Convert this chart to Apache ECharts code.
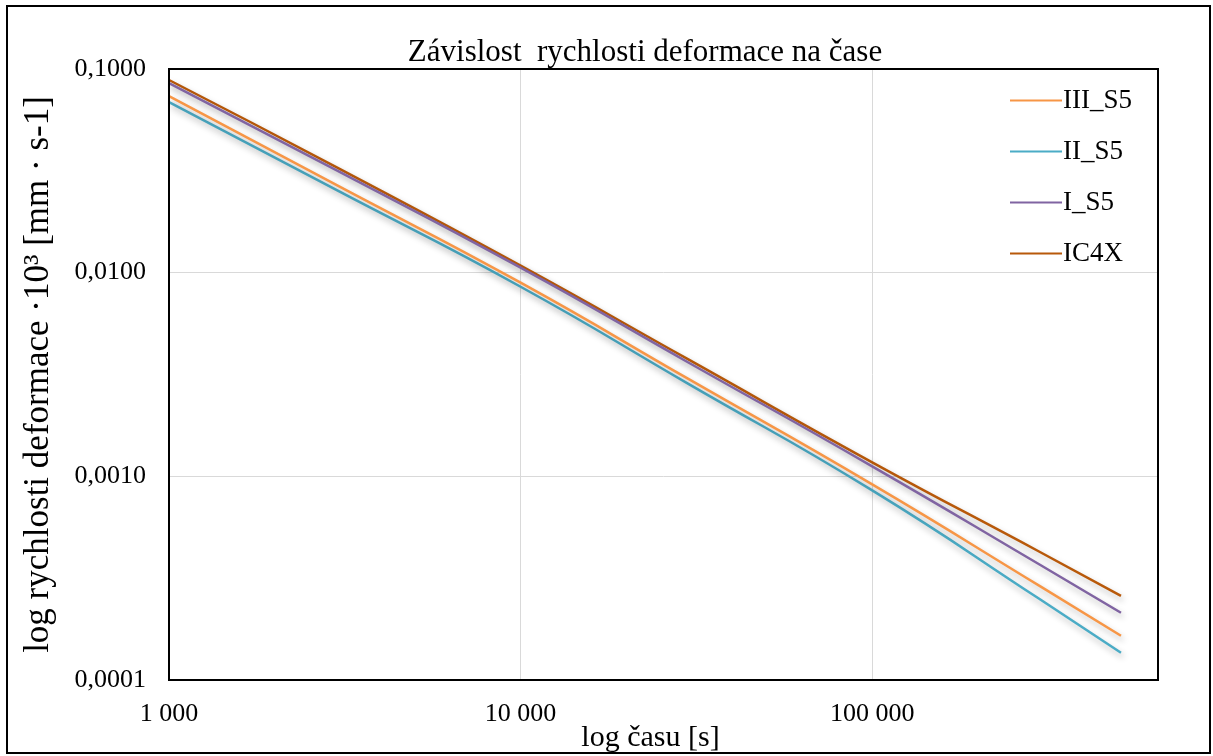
<!DOCTYPE html>
<html>
<head>
<meta charset="utf-8">
<script src="https://cdn.jsdelivr.net/npm/echarts@6/dist/echarts.min.js"></script>
<style>html,body{margin:0;padding:0;background:#fff}#c{width:1213px;height:756px}</style>
</head>
<body>
<div id="c"></div>
<script>
const times = [1000, 3000, 10000, 30000, 100000, 300000, 510000];
const seriesNames = ['III_S5', 'II_S5', 'I_S5', 'IC4X'];
const valIII_S5 = [0.0736, 0.0269, 0.00893, 0.003008, 0.000913, 0.000289, 0.000165];
const valII_S5  = [0.0688, 0.0254, 0.00853, 0.002845, 0.000853, 0.000249, 0.000136];
const valI_S5   = [0.0853, 0.0318, 0.01058, 0.003623, 0.001120, 0.000368, 0.000214];
const valIC4X   = [0.0883, 0.0329, 0.01083, 0.003750, 0.001172, 0.000425, 0.000259];
const yTicks = [0.0001, 0.001, 0.01, 0.1];
const xTicks = [1000, 10000, 100000];
const colors = ['#F79646', '#4BACC6', '#8064A2', '#B8590A'];
const values = [valIII_S5, valII_S5, valI_S5, valIC4X];

const serif = '"Liberation Serif", "DejaVu Serif", serif';
const isPow10 = v => Math.abs(Math.log10(v) - Math.round(Math.log10(v))) < 1e-6;

const G = {left: 169, top: 69, right: 55, bottom: 76};
const chart = echarts.init(document.getElementById('c'), null, {renderer: 'canvas'});
chart.setOption({
  backgroundColor: '#fff',
  animation: false,
  title: {
    text: 'Závislost  rychlosti deformace na čase',
    left: 640, top: 32, textAlign: 'center',
    textStyle: {fontFamily: serif, fontSize: 31, fontWeight: 'normal', color: '#000'}
  },
  graphic: [{
    type: 'rect', shape: {x: 7, y: 6, width: 1203, height: 747},
    style: {fill: 'none', stroke: '#000', lineWidth: 2}, silent: true, z: 100
  }, {
    type: 'rect', shape: {x: G.left, y: G.top, width: 1213 - G.left - G.right, height: 756 - G.top - G.bottom},
    style: {fill: 'none', stroke: '#000', lineWidth: 2}, silent: true, z: 100
  }],
  legend: {
    orient: 'vertical', left: 1005, top: 82,
    itemWidth: 52, itemHeight: 2, itemGap: 24, icon: 'rect',
    data: seriesNames,
    textStyle: {fontFamily: serif, fontSize: 27, color: '#000', padding: [0, 0, 0, -4]}
  },
  grid: {left: G.left, right: G.right, top: G.top, bottom: G.bottom, show: false, containLabel: false, outerBoundsMode: 'none'},
  xAxis: {
    type: 'log', logBase: 10, min: 1000, max: 650000,
    name: 'log času [s]', nameLocation: 'middle', nameGap: 43, nameMoveOverlap: false,
    nameTextStyle: {fontFamily: serif, fontSize: 30, color: '#000', padding: [0, 26, 0, 0]},
    axisLine: {show: false}, axisTick: {show: false},
    axisLabel: {
      fontFamily: serif, fontSize: 26, color: '#000', margin: 21, showMaxLabel: false,
      formatter: v => (isPow10(v) && xTicks.some(t => Math.abs(t - v) / t < 1e-6)) ? String(Math.round(v)).replace(/\B(?=(\d{3})+(?!\d))/g, ' ') : ''
    },
    splitLine: {show: true, lineStyle: {color: '#d9d9d9', width: 1}},
    minorSplitLine: {show: false}
  },
  yAxis: {
    type: 'log', logBase: 10, min: 0.0001, max: 0.1,
    name: 'log rychlosti deformace ·10³ [mm · s-1]', nameLocation: 'middle', nameGap: 113, nameRotate: 90, nameMoveOverlap: false,
    nameTextStyle: {fontFamily: serif, fontSize: 35, color: '#000'},
    axisLine: {show: false}, axisTick: {show: false},
    axisLabel: {
      fontFamily: serif, fontSize: 26, color: '#000', margin: 23,
      formatter: v => yTicks.some(t => Math.abs(t - v) / t < 1e-6) ? v.toFixed(4).replace('.', ',') : ''
    },
    splitLine: {show: true, lineStyle: {color: '#d9d9d9', width: 1}}
  },
  series: seriesNames.map((n, i) => ({
    name: n, type: 'line', smooth: true, showSymbol: false, symbol: 'none',
    color: colors[i],
    data: times.map((t, j) => [t, values[i][j]]),
    lineStyle: {width: 2.5, color: colors[i], shadowColor: 'rgba(0,0,0,0.28)', shadowBlur: 6, shadowOffsetX: 2, shadowOffsetY: 4},
    z: 4 - i
  }))
});
</script>
</body>
</html>
